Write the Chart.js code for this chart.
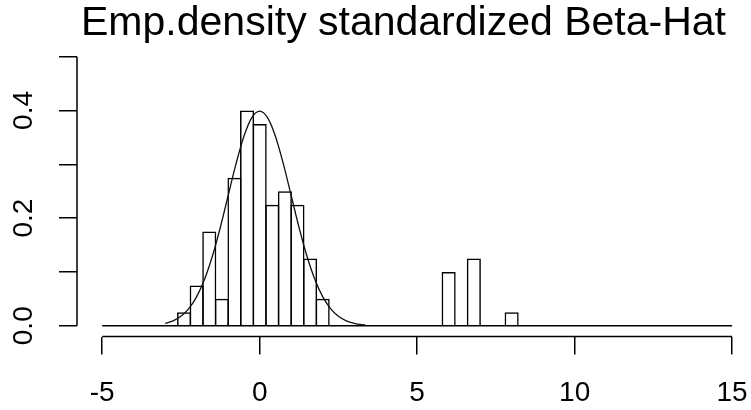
<!DOCTYPE html>
<html>
<head>
<meta charset="utf-8">
<script src="https://cdn.jsdelivr.net/npm/chart.js@4"></script>
<style>
  html, body { margin: 0; padding: 0; background: #ffffff; }
  #wrap { width: 751px; height: 410px; position: relative; }
</style>
</head>
<body>
<div id="wrap"><canvas id="c" width="751" height="410"></canvas></div>
<script>
// Histogram bins (width 0.4): centers and densities
const binCenters = [-2.4, -2.0, -1.6, -1.2, -0.8, -0.4, 0.0, 0.4, 0.8, 1.2, 1.6, 2.0, 6.0, 6.8, 8.0];
const binDensity = [0.025, 0.075, 0.175, 0.05, 0.275, 0.4, 0.375, 0.225, 0.25, 0.225, 0.125, 0.05, 0.1, 0.125, 0.025];
// Histogram break range (zero-height bins drawn as a baseline)
const breakRange = [-5, 15];
// Overlaid density curve
const curveX = [-3.0, -2.75, -2.5, -2.25, -2.0, -1.75, -1.5, -1.25, -1.0, -0.75, -0.5, -0.25, 0.0, 0.25, 0.5, 0.75, 1.0, 1.25, 1.5, 1.75, 2.0, 2.25, 2.5, 2.75, 3.0, 3.25, 3.35];
const curveY = [0.0044, 0.0091, 0.0175, 0.0317, 0.054, 0.0863, 0.1295, 0.1826, 0.242, 0.3011, 0.3521, 0.3867, 0.3989, 0.3867, 0.3521, 0.3011, 0.242, 0.1826, 0.1295, 0.0863, 0.054, 0.0317, 0.0175, 0.0091, 0.0044, 0.002, 0.0015];
// Axis ticks
const xTicks = [-5, 0, 5, 10, 15];
const yTicks = [0.0, 0.1, 0.2, 0.3, 0.4, 0.5];
const yTickLabels = ['0.0', '', '0.2', '', '0.4', ''];
const titleText = 'Emp.density standardized Beta-Hat';

const rAxes = {
  id: 'rAxes',
  afterLayout(chart) {
    const t = chart.titleBlock;
    if (t) { t.left += 28; t.right += 28; }
  },
  afterDraw(chart) {
    const ctx = chart.ctx;
    const xs = chart.scales.x, ys = chart.scales.y;
    const a = chart.chartArea;
    ctx.save();
    ctx.strokeStyle = '#000';
    ctx.lineWidth = 1.5;
    ctx.beginPath();
    ctx.moveTo(xs.getPixelForValue(xTicks[0]), a.bottom);
    ctx.lineTo(xs.getPixelForValue(xTicks[xTicks.length - 1]), a.bottom);
    ctx.moveTo(a.left, ys.getPixelForValue(yTicks[0]));
    ctx.lineTo(a.left, ys.getPixelForValue(yTicks[yTicks.length - 1]));
    ctx.stroke();
    ctx.restore();
  }
};

const barData = binCenters.map((x, i) => ({ x: x, y: binDensity[i] }));
const curveData = curveX.map((x, i) => ({ x: x, y: curveY[i] }));
const baseData = breakRange.map(x => ({ x: x, y: 0 }));

new Chart(document.getElementById('c'), {
  type: 'bar',
  data: {
    datasets: [
      {
        type: 'line',
        data: curveData,
        borderColor: '#111',
        borderWidth: 1.3,
        pointRadius: 0,
        cubicInterpolationMode: 'monotone',
        fill: false,
        order: 0
      },
      {
        type: 'line',
        data: baseData,
        borderColor: '#000',
        borderWidth: 1.5,
        pointRadius: 0,
        fill: false,
        order: 1
      },
      {
        type: 'bar',
        data: barData,
        backgroundColor: 'rgba(255,255,255,0)',
        borderColor: '#000',
        borderWidth: 1.5,
        borderSkipped: 'bottom',
        inflateAmount: 0,
        barPercentage: 1.119,
        categoryPercentage: 1.0,
        order: 2
      }
    ]
  },
  options: {
    responsive: false,
    animation: false,
    layout: { padding: { left: 0, right: 0, top: 0, bottom: 0 } },
    plugins: {
      legend: { display: false },
      tooltip: { enabled: false },
      title: {
        display: true,
        text: titleText,
        color: '#000',
        font: { family: 'Liberation Sans', size: 41, weight: 'normal', lineHeight: 1.0 },
        padding: { top: 3, bottom: 1.9 }
      }
    },
    scales: {
      x: {
        type: 'linear',
        min: -5.8,
        max: 15.6,
        offset: false,
        afterBuildTicks: s => { s.ticks = xTicks.map(v => ({ value: v })); },
        afterFit: s => { s.height = 73.5; s.paddingLeft = 0; s.paddingRight = 0; },
        grid: { display: true, offset: false, drawOnChartArea: false, drawTicks: true, tickLength: 18, color: '#000', lineWidth: 1.5 },
        border: { display: false },
        ticks: {
          color: '#000',
          font: { family: 'Liberation Sans', size: 28 },
          padding: 22,
          maxRotation: 0,
          minRotation: 0,
          autoSkip: false,
          callback: v => String(v)
        }
      },
      y: {
        type: 'linear',
        min: -0.02,
        max: 0.52,
        afterBuildTicks: s => { s.ticks = yTicks.map(v => ({ value: v })); },
        afterFit: s => { s.width = 77; s.paddingTop = 0; s.paddingBottom = 0; },
        grid: { display: true, offset: false, drawOnChartArea: false, drawTicks: true, tickLength: 18, color: '#000', lineWidth: 1.5 },
        border: { display: false },
        ticks: {
          color: '#000',
          font: { family: 'Liberation Sans', size: 28 },
          padding: 15.5,
          crossAlign: 'center',
          minRotation: 90,
          maxRotation: 90,
          autoSkip: false,
          callback: (v, i) => yTickLabels[i]
        }
      }
    }
  },
  plugins: [rAxes]
});
</script>
</body>
</html>
